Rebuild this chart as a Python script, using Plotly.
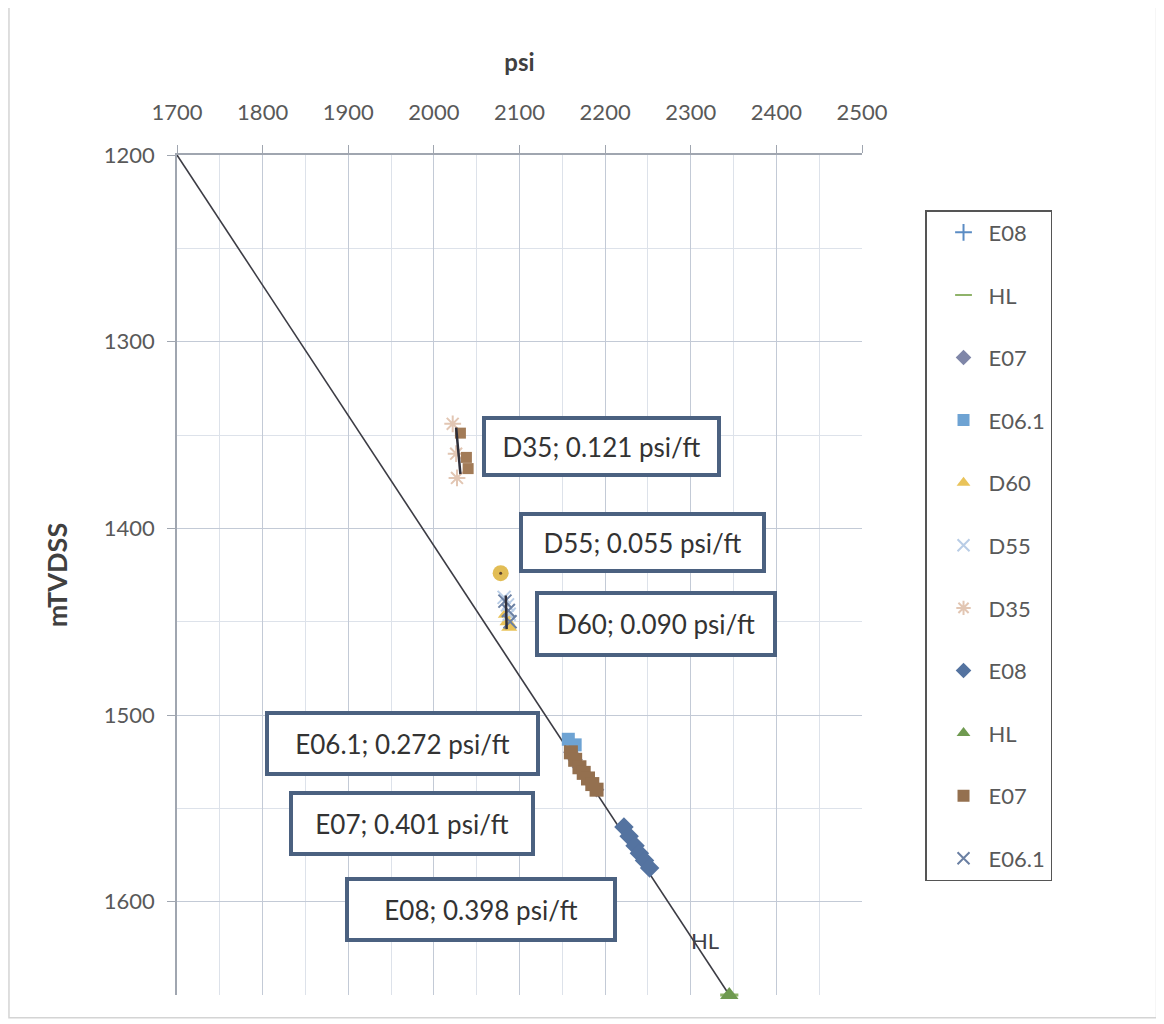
import plotly.graph_objects as go

# ---------------- data (psi, mTVDSS) ----------------
hl_line_psi = [1700, 2345]
hl_line_depth = [1200, 1650]

e08_psi = [2222, 2228, 2235, 2240, 2246, 2252]
e08_depth = [1560, 1565, 1570, 1574, 1578, 1582]

e07_psi = [2160, 2165, 2170, 2175, 2180, 2185, 2190]
e07_depth = [1520, 1524, 1528, 1531, 1534, 1537, 1540]

e061_psi = [2157, 2165]
e061_depth = [1513, 1516]

d60_psi = [2084, 2086, 2088]
d60_depth = [1446, 1450, 1453]

d55_psi = [2082, 2086, 2088]
d55_depth = [1437, 1441, 1446]

d35_star_psi = [2022, 2026, 2027]
d35_star_depth = [1344, 1360, 1373]
d35_sq_psi = [2031, 2038, 2040]
d35_sq_depth = [1349, 1362, 1368]

d5560_x_psi = [2083, 2087, 2089]
d5560_x_depth = [1439, 1444, 1450]

d60_circle_psi = [2078]
d60_circle_depth = [1424]

hl_psi = [2345]
hl_depth = [1650]

d35_trend_psi = [2026, 2031]
d35_trend_depth = [1346, 1371]
d5560_trend_psi = [2084, 2085]
d5560_trend_depth = [1436, 1454]

labels = ["D35; 0.121 psi/ft", "D55; 0.055 psi/ft", "D60; 0.090 psi/ft",
          "E06.1; 0.272 psi/ft", "E07; 0.401 psi/ft", "E08; 0.398 psi/ft"]
label_psi = [2196, 2244, 2259, 1963, 1974, 2055]
label_depth = [1356, 1407.5, 1451, 1515.5, 1558, 1604]
label_w = [227, 235, 230, 263, 234, 260]
label_h = [49, 49, 54, 53, 53, 53]

xticks = [1700, 1800, 1900, 2000, 2100, 2200, 2300, 2400, 2500]
yticks = [1200, 1300, 1400, 1500, 1600]

FONT = "Lato, Carlito, Calibri, sans-serif"
TXT = "#595959"

fig = go.Figure()

fig.add_trace(go.Scatter(x=hl_line_psi, y=hl_line_depth, mode="lines",
                         line=dict(color="#3c3c44", width=1.6), showlegend=False,
                         hoverinfo="skip"))

def mk(name, x, y, symbol, color, size=11, lw=0, lcolor=None, show=True, group=None):
    fig.add_trace(go.Scatter(
        x=x, y=y, mode="markers", name=name, showlegend=show,
        legendgroup=group,
        marker=dict(symbol=symbol, color=color, size=size,
                    line=dict(width=lw, color=lcolor if lcolor else color)),
        cliponaxis=False))

mk("E08", e08_psi, e08_depth, "cross-thin-open", "#5b8cc4", 11, 2, group="g1")
mk("HL", hl_psi, hl_depth, "line-ew-open", "#8fb36a", 13, 3, group="g2")
mk("E07", e07_psi, e07_depth, "diamond", "#7f86a8", 12, group="g3")
mk("E06.1", e061_psi, e061_depth, "square", "#6ea3d3", 13, group="g4")
mk("D60", d60_psi, d60_depth, "triangle-up", "#e9c35a", 14, group="g5")
mk("D55", d55_psi, d55_depth, "x-thin-open", "#b9cde6", 13, 2, group="g6")
mk("D35", d35_star_psi, d35_star_depth, "asterisk-open", "#e2c6b3", 14, 2, group="g7")
mk("E08", e08_psi, e08_depth, "diamond", "#5473a0", 15, group="g8")
mk("HL", hl_psi, hl_depth, "triangle-up", "#6f9a50", 16, group="g9")
mk("E07", e07_psi, e07_depth, "square", "#94704f", 14, group="g10")
mk("E07", d35_sq_psi, d35_sq_depth, "square", "#a27b57", 11, show=False, group="g10")
mk("E06.1", d5560_x_psi, d5560_x_depth, "x-thin-open", "#6b80a3", 13, 2, group="g11")

mk("D60", d60_circle_psi, d60_circle_depth, "circle", "#e2bd55", 16, show=False, group="g5")
mk("D60", d60_circle_psi, d60_circle_depth, "circle", "#5a4030", 3, show=False, group="g5")

fig.add_trace(go.Scatter(x=d35_trend_psi, y=d35_trend_depth, mode="lines",
                         line=dict(color="#2f2f3a", width=2.5), showlegend=False,
                         hoverinfo="skip"))
fig.add_trace(go.Scatter(x=d5560_trend_psi, y=d5560_trend_depth, mode="lines",
                         line=dict(color="#2f2f3a", width=2.5), showlegend=False,
                         hoverinfo="skip"))

for t, x, y, w, h in zip(labels, label_psi, label_depth, label_w, label_h):
    fig.add_annotation(x=x, y=y, xref="x", yref="y", text=t, showarrow=False,
                       font=dict(family=FONT, size=26, color="#333333"),
                       bgcolor="white", bordercolor="#4b6180", borderwidth=4,
                       borderpad=2, width=w, height=h, align="center", valign="middle")

fig.add_annotation(x=2317, y=1621, xref="x", yref="y", text="HL", showarrow=False,
                   font=dict(family=FONT, size=22, color="#404048"))

fig.add_shape(type="rect", xref="paper", yref="paper",
              x0=-0.2453, x1=1.43, y0=-0.027, y1=1.176,
              line=dict(color="#d4d4d4", width=1.5), fillcolor="rgba(0,0,0,0)", layer="below")

fig.update_layout(
    width=1156, height=1016,
    margin=dict(l=169, r=302, t=147, b=29),
    paper_bgcolor="white", plot_bgcolor="white",
    font=dict(family=FONT, size=22, color=TXT),
    legend=dict(x=1.092, y=0.9345, xanchor="left", yanchor="top",
                bordercolor="#555555", borderwidth=1.5, bgcolor="white",
                font=dict(family=FONT, size=22, color=TXT),
                tracegroupgap=31, traceorder="grouped", itemsizing="constant",
                indentation=12, itemwidth=40, entrywidth=140),
    showlegend=True,
)

fig.update_xaxes(
    side="top", range=[1700, 2500], tickvals=xticks, ticktext=[str(v) for v in xticks],
    ticks="outside", ticklen=8, tickcolor="#a0a6b0", ticklabelstandoff=16,
    tickfont=dict(family=FONT, size=22, color=TXT),
    showgrid=True, gridcolor="#c3cad6", gridwidth=1.2,
    minor=dict(dtick=50, tick0=1700, showgrid=True, gridcolor="#dde2ea", gridwidth=1),
    showline=True, linecolor="#a0a6b0", linewidth=1.5, zeroline=False,
    title=dict(text="<b>psi</b>", font=dict(family=FONT, size=24, color="#404040"), standoff=20),
)
fig.update_yaxes(
    range=[1650, 1200], tickvals=yticks, ticktext=[str(v) for v in yticks],
    ticks="outside", ticklen=8, tickcolor="#a0a6b0", ticklabelstandoff=8,
    tickfont=dict(family=FONT, size=22, color=TXT),
    showgrid=True, gridcolor="#c3cad6", gridwidth=1.2,
    minor=dict(dtick=50, tick0=1200, showgrid=True, gridcolor="#dde2ea", gridwidth=1),
    showline=True, linecolor="#a0a6b0", linewidth=1.5, zeroline=False,
    title=dict(text="<b>mTVDSS</b>", font=dict(family=FONT, size=27, color="#404040"), standoff=28),
)

fig.write_html("out.html")
